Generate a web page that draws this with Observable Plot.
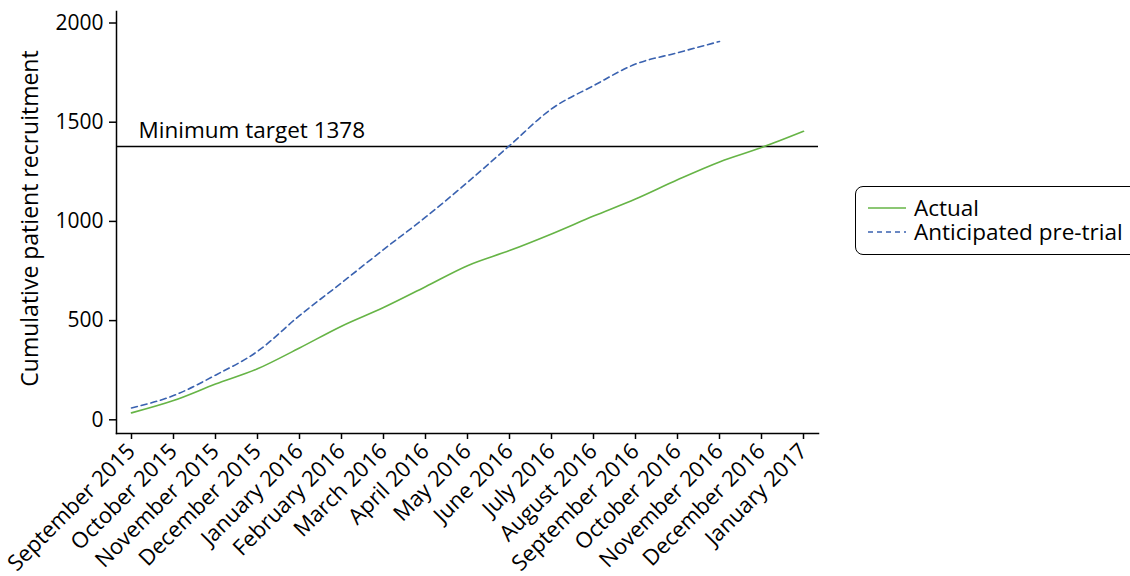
<!DOCTYPE html>
<html>
<head>
<meta charset="utf-8">
<script src="https://cdn.jsdelivr.net/npm/d3@7"></script>
<script src="https://cdn.jsdelivr.net/npm/@observablehq/plot@0.6"></script>
<style>
  html, body { margin: 0; padding: 0; background: #fff; overflow: hidden; }
  #wrap { position: relative; width: 1130px; height: 576px; font-family: "Open Sans", sans-serif; overflow: hidden; }
  #legend {
    position: absolute; left: 855px; top: 186px; width: 300px; height: 69px;
    border: 1.5px solid #000; border-radius: 8px; box-sizing: border-box;
    font-size: 22.5px; color: #000; background: #fff;
  }
  .item { position: absolute; left: 11px; display: flex; align-items: center; white-space: nowrap; line-height: 22px; height: 22px; }
  .item svg { margin-right: 7px; }
</style>
</head>
<body>
<div id="wrap">
  <div id="chart"></div>
  <div id="legend">
    <div class="item" style="top:10px"><svg width="40" height="4"><line x1="1" x2="39" y1="2" y2="2" stroke="#66b446" stroke-width="1.6"/></svg>Actual</div>
    <div class="item" style="top:34px"><svg width="40" height="4"><line x1="1" x2="39" y1="2" y2="2" stroke="#3a62b0" stroke-width="1.6" stroke-dasharray="5,4"/></svg>Anticipated pre-trial</div>
  </div>
</div>
<script>
const months = ["September 2015","October 2015","November 2015","December 2015","January 2016","February 2016","March 2016","April 2016","May 2016","June 2016","July 2016","August 2016","September 2016","October 2016","November 2016","December 2016","January 2017"];
const actual = [35, 97, 180, 257, 362, 472, 566, 671, 777, 853, 937, 1027, 1113, 1210, 1300, 1372, 1454];
const anticipated = [60, 122, 225, 345, 525, 690, 858, 1021, 1197, 1382, 1567, 1684, 1793, 1850, 1907];
const yTicks = [0, 500, 1000, 1500, 2000];
const target = 1378;
const targetLabel = "Minimum target 1378";
const yLabel = "Cumulative patient recruitment";

const actualData = actual.map((v, i) => ({month: months[i], value: v}));
const anticipatedData = anticipated.map((v, i) => ({month: months[i], value: v}));

const chart = Plot.plot({
  width: 1130,
  height: 576,
  marginLeft: 116,
  marginRight: 312,
  marginTop: 11,
  marginBottom: 143,
  style: {fontFamily: "Open Sans, sans-serif", fontSize: "22px", color: "#000", background: "#fff"},
  x: {type: "point", domain: months, padding: 0.3},
  y: {domain: [-69, 2058]},
  marks: [
    Plot.axisX({tickRotate: -45, tickSize: 6, tickPadding: 8, label: null, fontSize: 22, strokeWidth: 1.5}),
    Plot.axisY({ticks: yTicks, tickFormat: d => String(d), tickSize: 7, tickPadding: 6, label: null, fontSize: 21, strokeWidth: 1.5}),
    Plot.text([yLabel], {frameAnchor: "left", textAnchor: "middle", rotate: -90, dx: -86, dy: -4, text: d => d, fontSize: 23}),
    Plot.frame({anchor: "left", strokeWidth: 1.5}),
    Plot.frame({anchor: "bottom", strokeWidth: 1.5}),
    Plot.ruleY([target], {stroke: "#000", strokeWidth: 1.5}),
    Plot.text([targetLabel], {x: () => months[0], y: () => target, text: d => d, textAnchor: "start", dx: 7, dy: -16, fontSize: 22.5}),
    Plot.line(anticipatedData, {x: "month", y: "value", stroke: "#3a62b0", strokeWidth: 1.6, strokeDasharray: "6,4", curve: "monotone-x"}),
    Plot.line(actualData, {x: "month", y: "value", stroke: "#66b446", strokeWidth: 1.6, curve: "monotone-x"})
  ]
});
document.getElementById("chart").appendChild(chart);
</script>
</body>
</html>
